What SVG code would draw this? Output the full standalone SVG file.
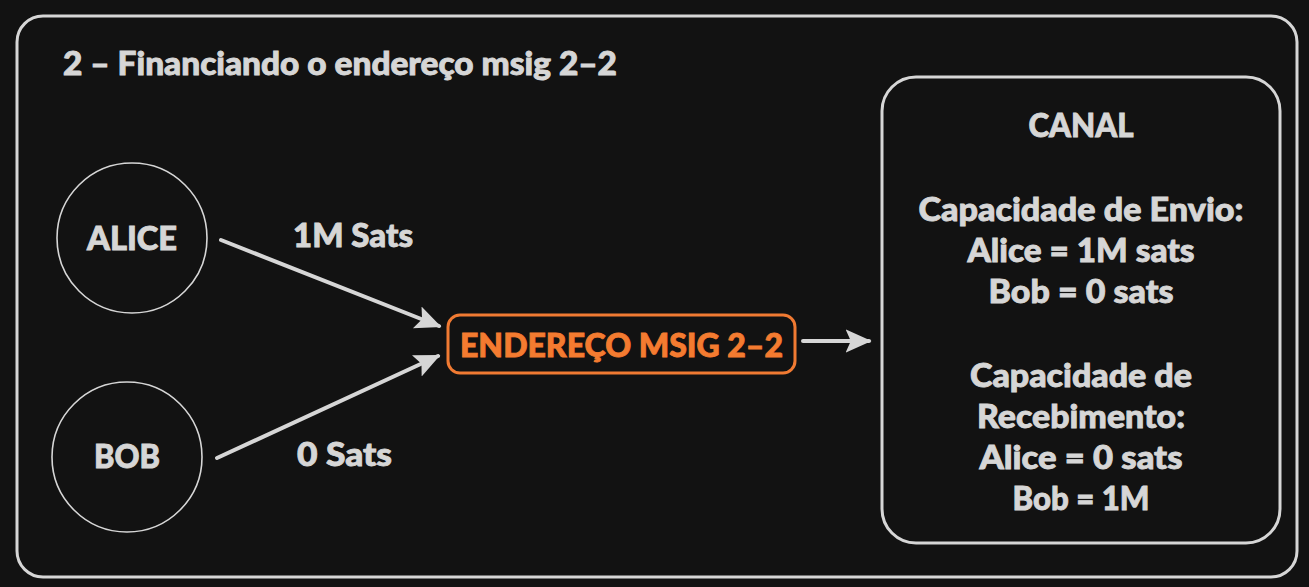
<svg xmlns="http://www.w3.org/2000/svg" width="1309" height="587" viewBox="0 0 1309 587">
<defs>
<style>
.t{font-family:Lato,"Open Sans","Liberation Sans",sans-serif;font-weight:900;fill:#d6d6d6;stroke:#d6d6d6;stroke-width:0.9;paint-order:stroke;font-size:33px;}
.c{text-anchor:middle;}
.o{fill:#f47b30;stroke:#f47b30;}
.ln{fill:none;stroke:#d6d6d6;stroke-linecap:round;}
</style>
<marker id="ah" viewBox="0 0 10 10" refX="9" refY="5" markerWidth="6.5" markerHeight="6.5" markerUnits="strokeWidth" orient="auto">
<path d="M0,0.5 L10,5 L0,9.5 L2,5 Z" fill="#d6d6d6"/>
</marker>
</defs>
<rect width="1309" height="587" fill="#121212"/>
<g id="frame">
<rect x="17" y="16" width="1280" height="561" rx="26" fill="none" stroke="#d6d6d6" stroke-width="3"/>
<text class="t" x="63" y="75" style="font-size:32px" textLength="554" lengthAdjust="spacingAndGlyphs">2 – Financiando o endereço msig 2–2</text>
</g>
<g id="alice">
<circle cx="132" cy="238" r="75" fill="none" stroke="#d6d6d6" stroke-width="1.6"/>
<text class="t c" x="132" y="250" textLength="90" lengthAdjust="spacingAndGlyphs">ALICE</text>
</g>
<g id="bob">
<circle cx="127" cy="457" r="75" fill="none" stroke="#d6d6d6" stroke-width="1.6"/>
<text class="t c" x="127" y="468" textLength="66" lengthAdjust="spacingAndGlyphs">BOB</text>
</g>
<g id="msig">
<rect x="448" y="315" width="347" height="58" rx="12" fill="none" stroke="#f07a32" stroke-width="3"/>
<text class="t c o" x="621.5" y="357" textLength="323" lengthAdjust="spacingAndGlyphs">ENDEREÇO MSIG 2–2</text>
</g>
<g id="canal">
<rect x="882" y="77" width="398" height="466" rx="34" fill="none" stroke="#d6d6d6" stroke-width="3"/>
<text class="t c" x="1081" y="137" textLength="105" lengthAdjust="spacingAndGlyphs">CANAL</text>
<text class="t c" x="1081" y="221" textLength="325" lengthAdjust="spacingAndGlyphs">Capacidade de Envio:</text>
<text class="t c" x="1081" y="262" textLength="227" lengthAdjust="spacingAndGlyphs">Alice = 1M sats</text>
<text class="t c" x="1081" y="303" textLength="185" lengthAdjust="spacingAndGlyphs">Bob = 0 sats</text>
<text class="t c" x="1081" y="387" textLength="222" lengthAdjust="spacingAndGlyphs">Capacidade de</text>
<text class="t c" x="1081" y="428" textLength="208" lengthAdjust="spacingAndGlyphs">Recebimento:</text>
<text class="t c" x="1081" y="469" textLength="203" lengthAdjust="spacingAndGlyphs">Alice = 0 sats</text>
<text class="t c" x="1081" y="510" textLength="137" lengthAdjust="spacingAndGlyphs">Bob = 1M</text>
</g>
<g id="connectors">
<line class="ln" x1="221" y1="240" x2="439" y2="326" stroke-width="4" marker-end="url(#ah)"/>
<line class="ln" x1="217" y1="458" x2="438" y2="356" stroke-width="4" marker-end="url(#ah)"/>
<line class="ln" x1="803" y1="341" x2="869" y2="341" stroke-width="4" marker-end="url(#ah)"/>
<text class="t" x="293" y="247" textLength="120" lengthAdjust="spacingAndGlyphs">1M Sats</text>
<text class="t" x="297" y="466" textLength="95" lengthAdjust="spacingAndGlyphs">0 Sats</text>
</g>
</svg>
